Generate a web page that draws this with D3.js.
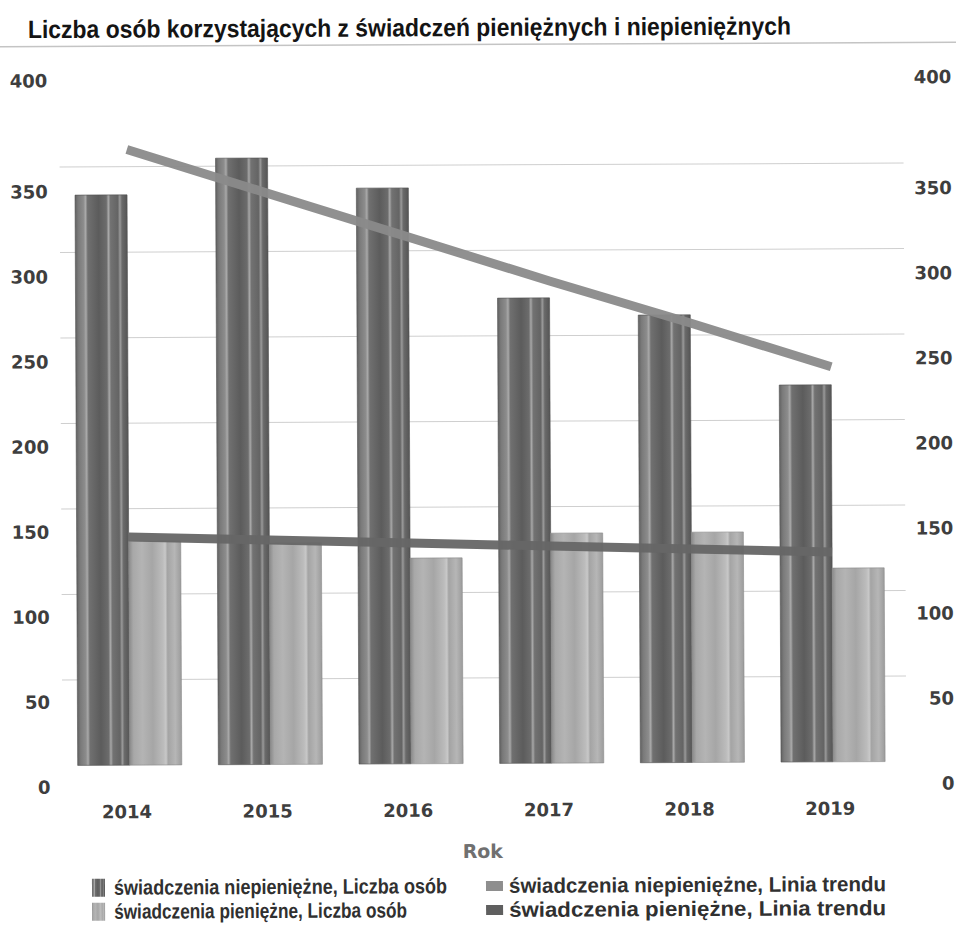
<!DOCTYPE html>
<html>
<head>
<meta charset="utf-8">
<script src="https://cdn.jsdelivr.net/npm/d3@7"></script>
<style>
	body { margin: 0 ; background: #ffffff ; }
</style>
</head>
<body>
<svg id="chart" width="956" height="931"></svg>
<script>
'use strict' ;

// values
let years = [ "2014", "2015", "2016", "2017", "2018", "2019" ] ;
let niepieniezne = [ 333.5, 354.7, 336.8, 272.1, 261.8, 220.5 ] ;
let pieniezne = [ 131.0, 129.5, 120.3, 134.5, 134.7, 113.3 ] ;
let trendNiepieniezne = [ 360, 334, 308, 282, 257, 231 ] ;
let trendPieniezne = [ 133.4, 131.3, 129.1, 127.0, 124.8, 122.7 ] ;
let yTicks = [ 0, 50, 100, 150, 200, 250, 300, 350, 400 ] ;
let gridTicks = [ 50, 100, 150, 200, 250, 300, 350 ] ;
let title = "Liczba osób korzystających z świadczeń pieniężnych i niepieniężnych" ;
let xTitle = "Rok" ;
let legendItems = [
	{ label: "świadczenia niepieniężne, Liczba osób", kind: "bar", fill: "url(#gradDark)", len: 333 },
	{ label: "świadczenia pieniężne, Liczba osób", kind: "bar", fill: "url(#gradLight)", len: 293 },
	{ label: "świadczenia niepieniężne, Linia trendu", kind: "line", fill: "#8e8e8e", len: 377 },
	{ label: "świadczenia pieniężne, Linia trendu", kind: "line", fill: "#5f5f5f", len: 377 }
] ;

let geom = {
	plot: { left: 58, right: 902, top: 79.5, bottom: 763.5 },
	grid: { left: 61, right: 905 },
	tilt: -0.27
} ;

let svg = d3.select( "#chart" ) ;

{
	let defs = svg.append( "defs" ) ;
	let addGradient = function( id, stops ) {
		let g = defs.append( "linearGradient" )
			.attr( "id", id )
			.attr( "x1", "0%" ).attr( "x2", "100%" )
			.attr( "y1", "0%" ).attr( "y2", "0%" ) ;
		g.selectAll( "stop" )
			.data( stops )
			.enter()
			.append( "stop" )
			.attr( "offset", d => d[0] + "%" )
			.attr( "stop-color", d => d[1] ) ;
	} ;
	addGradient( "gradDark", [
		[ 0, "#626262" ], [ 6, "#7a7a7a" ], [ 16, "#8c8c8c" ], [ 20, "#a9a9a9" ], [ 24, "#707070" ],
		[ 45, "#5c5c5c" ], [ 60, "#6c6c6c" ], [ 64, "#a8a8a8" ], [ 68, "#727272" ],
		[ 82, "#646464" ], [ 86, "#9a9a9a" ], [ 90, "#6a6a6a" ], [ 100, "#555555" ]
	] ) ;
	addGradient( "gradLight", [
		[ 0, "#8a8a8a" ], [ 8, "#a8a8a8" ], [ 25, "#b4b4b4" ], [ 45, "#a6a6a6" ],
		[ 65, "#bcbcbc" ], [ 70, "#c8c8c8" ], [ 74, "#a4a4a4" ], [ 88, "#b6b6b6" ], [ 100, "#9c9c9c" ]
	] ) ;
}

// the scan is slightly rotated
let root = svg.append( "g" )
	.attr( "transform", "rotate(" + geom.tilt + ",478,465)" ) ;

let x = d3.scaleBand()
	.domain( years )
	.range( [ geom.plot.left, geom.plot.right ] )
	.paddingInner( 0.26 )
	.paddingOuter( 0.13 ) ;
let series = d3.scaleBand()
	.domain( [ "niepieniezne", "pieniezne" ] )
	.range( [ 0, x.bandwidth() ] ) ;
let y = d3.scaleLinear()
	.domain( [ 0, 400 ] )
	.range( [ geom.plot.bottom, geom.plot.top ] ) ;
// tick labels in the original sit below their gridlines
let labelY = d3.scaleLinear()
	.domain( [ 0, 350 ] )
	.range( [ 786, 190.5 ] ) ;

// title
root.append( "text" )
	.attr( "x", 30 )
	.attr( "y", 36 )
	.attr( "font-family", "'Liberation Sans Narrow', 'Liberation Sans', Arial, sans-serif" )
	.attr( "font-weight", "bold" )
	.attr( "font-size", 25 )
	.attr( "fill", "#141414" )
	.attr( "textLength", 763 )
	.attr( "lengthAdjust", "spacingAndGlyphs" )
	.text( title ) ;
root.append( "line" )
	.attr( "x1", -10 ).attr( "x2", 966 )
	.attr( "y1", 44.5 ).attr( "y2", 44.5 )
	.attr( "stroke", "#c4c4c4" )
	.attr( "stroke-width", 1.5 ) ;

// gridlines
root.append( "g" )
	.selectAll( "line" )
	.data( gridTicks )
	.enter()
	.append( "line" )
	.attr( "x1", geom.grid.left )
	.attr( "x2", geom.grid.right )
	.attr( "y1", d => y( d ) )
	.attr( "y2", d => y( d ) )
	.attr( "stroke", "#cfcfcf" )
	.attr( "stroke-width", 1 ) ;

// axes
let drawAxis = function( axis, tx ) {
	let g = root.append( "g" )
		.attr( "transform", "translate(" + tx + ",0)" )
		.call( axis.tickValues( yTicks ).tickSize( 0 ).tickPadding( 0 ) ) ;
	g.select( ".domain" ).remove() ;
	g.selectAll( ".tick" )
		.attr( "transform", d => "translate(0," + ( d === 400 ? y( d ) : labelY( d ) ) + ")" ) ;
	g.selectAll( "text" )
		.attr( "x", 0 )
		.attr( "text-anchor", "end" )
		.attr( "font-family", "'DejaVu Sans', sans-serif" )
		.attr( "font-weight", "bold" )
		.attr( "font-size", 18 )
		.attr( "fill", "#3e3e3e" ) ;
} ;
drawAxis( d3.axisLeft( y ), 49 ) ;
drawAxis( d3.axisRight( y ), 953 ) ;

{
	let g = root.append( "g" )
		.attr( "transform", "translate(-3," + 816.5 + ")" )
		.call( d3.axisBottom( x ).tickSize( 0 ).tickPadding( 0 ) ) ;
	g.select( ".domain" ).remove() ;
	g.selectAll( "text" )
		.attr( "dy", 0 )
		.attr( "font-family", "'DejaVu Sans', sans-serif" )
		.attr( "font-weight", "bold" )
		.attr( "font-size", 18 )
		.attr( "fill", "#3e3e3e" ) ;
}
root.append( "text" )
	.attr( "x", 481 )
	.attr( "y", 858 )
	.attr( "text-anchor", "middle" )
	.attr( "font-family", "'DejaVu Sans', sans-serif" )
	.attr( "font-weight", "bold" )
	.attr( "font-size", 19 )
	.attr( "fill", "#707070" )
	.text( xTitle ) ;

// bars
{
	let groups = root.append( "g" )
		.selectAll( "g.year" )
		.data( years )
		.enter()
		.append( "g" )
		.attr( "class", "year" )
		.attr( "transform", d => "translate(" + x( d ) + ",0)" ) ;
	groups.append( "rect" )
		.attr( "x", series( "niepieniezne" ) )
		.attr( "width", series.bandwidth() )
		.attr( "y", ( d, i ) => y( niepieniezne[i] ) )
		.attr( "height", ( d, i ) => y( 0 ) - y( niepieniezne[i] ) )
		.attr( "fill", "url(#gradDark)" )
		.attr( "stroke", "#505050" )
		.attr( "stroke-width", 0.6 ) ;
	groups.append( "rect" )
		.attr( "x", series( "pieniezne" ) )
		.attr( "width", series.bandwidth() )
		.attr( "y", ( d, i ) => y( pieniezne[i] ) )
		.attr( "height", ( d, i ) => y( 0 ) - y( pieniezne[i] ) )
		.attr( "fill", "url(#gradLight)" )
		.attr( "stroke", "#8a8a8a" )
		.attr( "stroke-width", 0.6 ) ;
}

// trend lines
{
	let cx = d => x( d ) + x.bandwidth() / 2 ;
	let line = values => d3.line()
		.x( d => cx( d ) )
		.y( ( d, i ) => y( values[i] ) )( years ) ;
	root.append( "path" )
		.attr( "d", line( trendPieniezne ) )
		.attr( "fill", "none" )
		.attr( "stroke", "#666666" )
		.attr( "stroke-opacity", 0.95 )
		.attr( "stroke-width", 9 ) ;
	root.append( "path" )
		.attr( "d", line( trendNiepieniezne ) )
		.attr( "fill", "none" )
		.attr( "stroke", "#8a8a8a" )
		.attr( "stroke-opacity", 0.95 )
		.attr( "stroke-width", 9 ) ;
}

// legend
{
	let pos = [ [ 90, 886 ], [ 90, 910 ], [ 484, 886 ], [ 484, 910 ] ] ;
	let items = root.append( "g" )
		.selectAll( "g.item" )
		.data( legendItems )
		.enter()
		.append( "g" )
		.attr( "class", "item" )
		.attr( "transform", ( d, i ) => "translate(" + pos[i][0] + "," + pos[i][1] + ")" ) ;
	items.filter( d => d.kind === "bar" )
		.append( "rect" )
		.attr( "x", 0 ).attr( "y", -9 )
		.attr( "width", 13 ).attr( "height", 18 )
		.attr( "fill", d => d.fill ) ;
	items.filter( d => d.kind === "line" )
		.append( "rect" )
		.attr( "x", 0 ).attr( "y", -5 )
		.attr( "width", 17 ).attr( "height", 10 )
		.attr( "fill", d => d.fill ) ;
	items.append( "text" )
		.attr( "x", d => d.kind === "bar" ? 22 : 23 )
		.attr( "y", 7 )
		.attr( "font-family", "'Liberation Sans Narrow', 'Liberation Sans', Arial, sans-serif" )
		.attr( "font-weight", "bold" )
		.attr( "font-size", 21 )
		.attr( "fill", "#303030" )
		.attr( "textLength", d => d.len )
		.attr( "lengthAdjust", "spacingAndGlyphs" )
		.text( d => d.label ) ;
}
</script>
</body>
</html>
